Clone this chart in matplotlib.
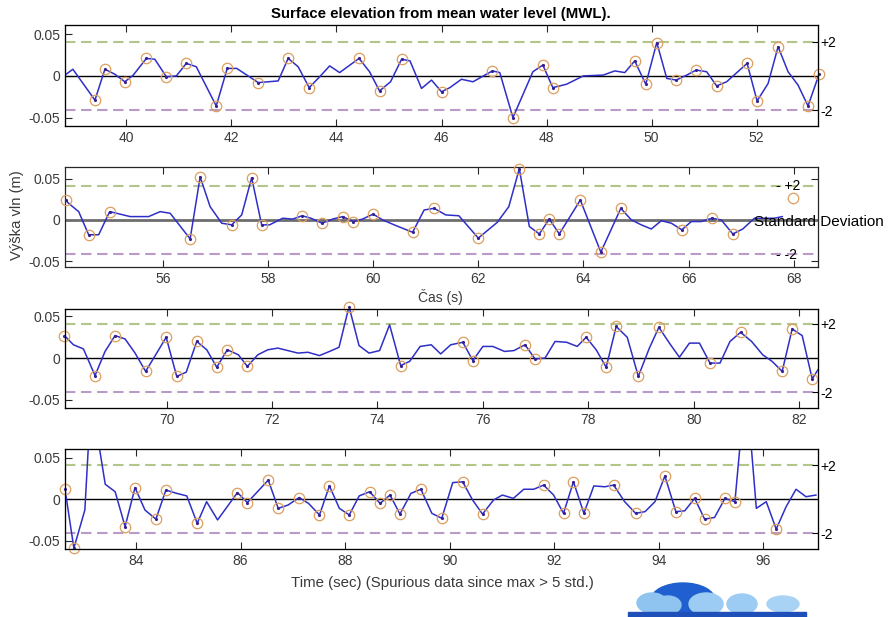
import numpy as np
import matplotlib
matplotlib.use('Agg')
import matplotlib.pyplot as plt
from matplotlib.patches import Ellipse, Rectangle

plt.rcParams['font.family'] = ['Liberation Sans', 'DejaVu Sans']

# ---- data ----
t1 = [38.83, 38.98, 39.40, 39.59, 39.78, 39.97, 40.13, 40.38, 40.54, 40.76, 40.95, 41.14, 41.33, 41.71, 41.92, 42.10,
      42.51, 42.89, 43.08, 43.27, 43.48, 43.68, 43.87, 44.06, 44.43, 44.63, 44.82, 45.03, 45.24, 45.40, 45.62, 45.81,
      46.00, 46.16, 46.38, 46.60, 46.97, 47.11, 47.36, 47.74, 47.93, 48.12, 48.38, 48.70, 49.08, 49.30, 49.49, 49.68,
      49.89, 50.10, 50.29, 50.47, 50.67, 50.85, 51.05, 51.24, 51.43, 51.82, 52.01, 52.22, 52.41, 52.60, 52.79, 52.98, 53.19]
v1 = [0.001, 0.008, -0.029, 0.008, 0.002, -0.007, 0.001, 0.021, 0.020, -0.001, 0.000, 0.015, 0.011, -0.036, 0.009, 0.009,
      -0.008, -0.006, 0.021, 0.011, -0.014, -0.001, 0.012, 0.004, 0.021, 0.005, -0.018, -0.007, 0.020, 0.018, -0.015, -0.005,
      -0.019, -0.014, -0.004, -0.007, 0.006, 0.004, -0.050, 0.005, 0.013, -0.014, -0.010, 0.000, 0.001, 0.006, 0.004, 0.018,
      -0.010, 0.040, -0.003, -0.005, 0.001, 0.007, 0.005, -0.012, -0.007, 0.015, -0.030, -0.009, 0.035, 0.005, -0.011, -0.036, 0.002]
c1 = [2, 3, 5, 7, 9, 11, 13, 14, 16, 18, 20, 24, 26, 28, 32, 36, 38, 40, 41, 47, 48, 49, 51, 53, 55, 57, 58, 60, 63, 64]

t2 = [54.15, 54.21, 54.40, 54.59, 54.78, 54.99, 55.38, 55.73, 55.95, 56.14, 56.52, 56.71, 56.90, 57.12, 57.31, 57.50,
      57.69, 57.88, 58.03, 58.28, 58.47, 58.65, 58.82, 59.03, 59.23, 59.42, 59.62, 59.80, 60.00, 60.18, 60.40, 60.75,
      60.97, 61.16, 61.38, 61.63, 62.00, 62.36, 62.58, 62.78, 62.97, 63.16, 63.35, 63.54, 63.94, 64.33, 64.71, 64.91,
      65.10, 65.29, 65.48, 65.67, 65.87, 66.05, 66.24, 66.44, 66.62, 66.84, 67.03, 67.25, 67.47, 67.63, 67.78]
v2 = [0.024, 0.020, 0.010, -0.018, -0.018, 0.010, 0.004, 0.004, 0.010, 0.008, -0.023, 0.052, 0.016, -0.004, -0.006, 0.006,
      0.051, -0.006, -0.006, 0.002, 0.001, 0.005, 0.002, -0.004, 0.001, 0.004, -0.002, 0.001, 0.007, 0.000, -0.006, -0.015,
      0.012, 0.014, 0.006, 0.005, -0.022, -0.003, 0.016, 0.062, -0.008, -0.017, 0.001, -0.017, 0.024, -0.039, 0.014, 0.000,
      -0.006, -0.011, -0.001, -0.004, -0.012, -0.002, -0.002, 0.002, 0.000, -0.017, -0.011, 0.002, 0.002, 0.002, 0.004]
c2 = [0, 3, 5, 10, 11, 14, 16, 17, 21, 23, 25, 26, 28, 31, 33, 36, 39, 41, 42, 43, 44, 45, 46, 52, 55, 57]
extra_t2, extra_v2 = 67.98, 0.027

t3 = [68.06, 68.23, 68.42, 68.64, 68.83, 69.02, 69.21, 69.40, 69.60, 69.81, 69.99, 70.19, 70.37, 70.57, 70.76, 70.95,
      71.15, 71.36, 71.53, 71.73, 71.92, 72.11, 72.30, 72.49, 72.68, 72.90, 73.09, 73.27, 73.46, 73.65, 73.84, 74.04,
      74.23, 74.44, 74.61, 74.81, 75.02, 75.20, 75.39, 75.62, 75.81, 76.00, 76.19, 76.41, 76.59, 76.80, 76.99, 77.18,
      77.37, 77.59, 77.79, 77.96, 78.15, 78.34, 78.53, 78.74, 78.95, 79.16, 79.34, 79.54, 79.73, 79.92, 80.11, 80.31,
      80.50, 80.69, 80.89, 81.10, 81.31, 81.49, 81.68, 81.87, 82.06, 82.25, 82.44]
v3 = [0.027, 0.016, 0.011, -0.021, 0.008, 0.027, 0.023, 0.006, -0.016, 0.006, 0.025, -0.022, -0.017, 0.020, 0.010, -0.011,
      0.010, 0.004, -0.010, 0.004, 0.010, 0.012, 0.009, 0.006, 0.007, 0.003, 0.008, 0.013, 0.062, 0.015, 0.006, 0.009,
      0.040, -0.009, -0.004, 0.014, 0.016, 0.005, 0.016, 0.019, -0.003, 0.014, 0.014, 0.008, 0.009, 0.016, -0.001, 0.000,
      0.020, 0.019, 0.014, 0.025, 0.010, -0.011, 0.038, 0.025, -0.022, 0.012, 0.037, 0.018, 0.001, 0.018, 0.018, -0.006,
      -0.006, 0.020, 0.031, 0.020, 0.004, -0.004, -0.016, 0.035, 0.027, -0.025, -0.006]
c3 = [0, 3, 5, 8, 10, 11, 13, 15, 16, 18, 28, 33, 39, 40, 45, 46, 51, 53, 54, 56, 58, 63, 66, 70, 71, 73]

t4 = [82.64, 82.81, 83.02, 83.14, 83.41, 83.60, 83.79, 83.98, 84.17, 84.38, 84.57, 84.78, 84.97, 85.17, 85.35, 85.56,
      85.94, 86.13, 86.53, 86.72, 86.91, 87.12, 87.30, 87.51, 87.70, 87.89, 88.08, 88.27, 88.47, 88.67, 88.86, 89.05,
      89.26, 89.45, 89.66, 89.85, 90.06, 90.25, 90.44, 90.63, 90.84, 91.01, 91.22, 91.42, 91.61, 91.80, 91.99, 92.18,
      92.37, 92.57, 92.76, 92.97, 93.14, 93.35, 93.56, 93.74, 93.93, 94.12, 94.33, 94.50, 94.69, 94.88, 95.07, 95.27,
      95.46, 95.67, 95.87, 96.06, 96.25, 96.44, 96.63, 96.82, 97.01]
v4 = [0.012, -0.059, -0.013, 0.124, 0.018, 0.009, -0.033, 0.014, -0.013, -0.024, 0.011, 0.007, 0.004, -0.029, -0.003, -0.025,
      0.008, -0.004, 0.023, -0.011, -0.007, 0.002, -0.005, -0.019, 0.016, -0.011, -0.019, 0.004, 0.009, -0.005, 0.005, -0.018,
      0.007, 0.012, -0.017, -0.023, 0.020, 0.021, -0.001, -0.018, -0.001, 0.005, 0.001, 0.012, 0.012, 0.017, 0.005, -0.017,
      0.021, -0.017, 0.016, 0.015, 0.017, -0.003, -0.017, -0.015, -0.003, 0.028, -0.015, -0.014, 0.001, -0.024, -0.022, 0.001,
      -0.003, 0.142, -0.011, -0.003, -0.036, -0.009, 0.012, 0.003, 0.005]
c4 = [0, 1, 6, 7, 9, 10, 13, 16, 17, 18, 19, 21, 23, 24, 26, 28, 29, 30, 31, 33, 35, 37, 39, 45, 47, 48, 49, 52, 54,
      57, 58, 60, 61, 63, 64, 68]

times = [t1, t2, t3, t4]
vals = [v1, v2, v3, v4]
crests = [c1, c2, c3, c4]
xlims = [(38.83, 53.17), (54.14, 68.46), (68.07, 82.36), (82.64, 97.05)]
ylims = [(-0.06, 0.061), (-0.057, 0.064), (-0.06, 0.059), (-0.06, 0.0605)]
std2 = 0.041

# panel boxes in pixels (left, top, right, bottom) on an 890x617 canvas
boxes = [(65, 25, 818, 126), (65, 167, 818, 267), (65, 309, 818, 408), (65, 449, 818, 549)]

W, H = 890, 617
fig = plt.figure(figsize=(W / 100, H / 100), dpi=100)
fig.patch.set_facecolor('white')

ring = '#dc9f5e'
axes = []
for k in range(4):
    l, tp, r, b = boxes[k]
    ax = fig.add_axes([l / W, 1 - b / H, (r - l) / W, (b - tp) / H])
    t = np.array(times[k])
    v = np.array(vals[k])
    ci = crests[k]
    ax.axhline(std2, color='#b3c68a', lw=1.5, ls=(0, (5, 2.7)), zorder=1)
    ax.axhline(-std2, color='#b99ac9', lw=1.5, ls=(0, (5, 2.7)), zorder=1)
    if k == 1:
        ax.axhline(0, color='#6e6e6e', lw=2, zorder=2)
    else:
        ax.axhline(0, color='black', lw=1, zorder=2)
    ax.plot(t, v, color='#2f2fc8', lw=1.1, zorder=3)
    ax.plot(t[ci], v[ci], 'o', mfc='none', mec=ring, mew=0.9, ms=7.5, zorder=4, clip_on=False)
    ax.plot(t[ci], v[ci], '.', color='#3a1f8a', ms=2.5, zorder=5, clip_on=False)
    ax.set_xlim(xlims[k])
    ax.set_ylim(ylims[k])
    x0 = int(np.ceil(xlims[k][0] / 2.0) * 2)
    ax.set_xticks(np.arange(x0, xlims[k][1], 2))
    ax.set_yticks([-0.05, 0, 0.05])
    ax.set_yticklabels(['-0.05', '0', '0.05'])
    ax.tick_params(direction='in', top=True, right=True, length=5, width=0.8,
                   labelsize=10, labelcolor='#3a3a3a', color='#262626')
    for s in ax.spines.values():
        s.set_color('#262626')
        s.set_linewidth(0.9)
    if k != 1:
        tw = ax.twinx()
        tw.set_ylim(ylims[k])
        tw.set_yticks([std2, -std2])
        tw.set_yticklabels(['+2', '-2'])
        tw.tick_params(direction='in', length=4, width=0.8, labelsize=10, pad=2)
    axes.append(ax)

# second panel: labels ended up inside the box
ax2 = axes[1]
ax2.plot([extra_t2], [extra_v2], 'o', mfc='none', mec=ring, mew=0.9, ms=7.5, zorder=4)
ax2.text(67.66, std2, '- +2', fontsize=10, va='center', ha='left')
ax2.text(67.66, -0.043, '- -2', fontsize=10, va='center', ha='left')
ax2.text(67.24, -0.002, 'Standard Deviation', fontsize=11, va='center', ha='left', clip_on=False)

fig.text(441 / W, 1 - 14 / H, 'Surface elevation from mean water level (MWL).',
         fontsize=10.8, fontweight='bold', ha='center', va='center')
fig.text(17 / W, 1 - 215 / H, 'Výška vln (m)', fontsize=10.6, rotation=90,
         ha='center', va='center', color='#3a3a3a')
fig.text(440 / W, 1 - 297 / H, 'Čas (s)', fontsize=10, ha='center', va='center', color='#3a3a3a')
fig.text(442 / W, 1 - 583 / H, 'Time (sec) (Spurious data since max > 5 std.)', fontsize=10.8,
         ha='center', va='center', color='#3a3a3a')

# rough logo in the lower right corner
lg = fig.add_axes([627 / W, 0, 185 / W, 35 / H])
lg.set_xlim(627, 812)
lg.set_ylim(617, 582)
lg.axis('off')
lg.add_patch(Ellipse((683, 600), 64, 34, color='#1f5fcf'))
lg.add_patch(Ellipse((652, 603), 30, 20, color='#8fc3f0'))
lg.add_patch(Ellipse((668, 605), 26, 18, color='#8fc3f0'))
lg.add_patch(Ellipse((706, 604), 34, 22, color='#9ccbf3'))
lg.add_patch(Ellipse((742, 604), 30, 20, color='#9ccbf3'))
lg.add_patch(Ellipse((783, 604), 32, 16, color='#a9d3f5'))
lg.add_patch(Rectangle((628, 612), 178, 5, color='#1f4fb8'))

plt.savefig('out.png', dpi=100)
